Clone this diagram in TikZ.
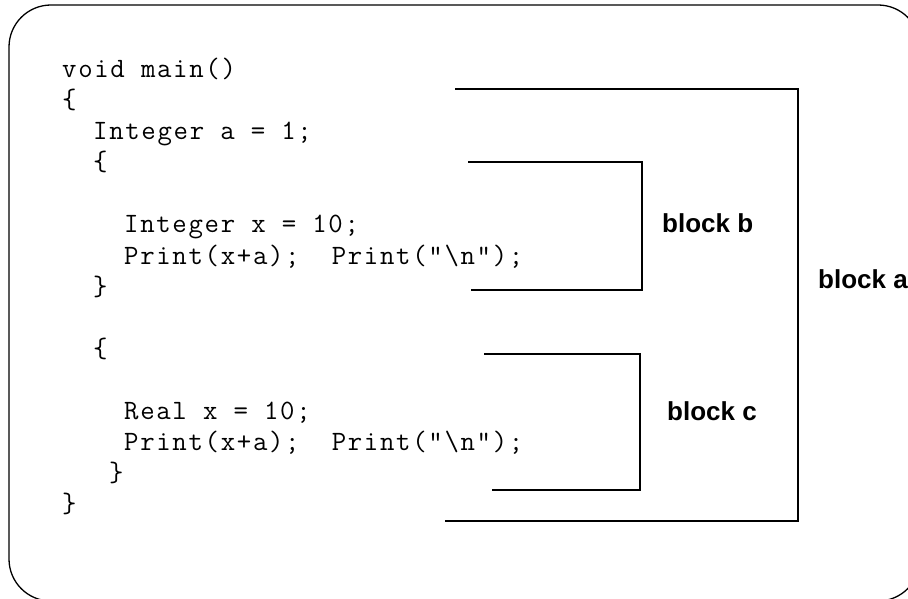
\documentclass[tikz,border=0pt]{standalone}
\usepackage{fontspec}
\setmonofont[LetterSpace=6]{Latin Modern Mono}
\newfontfamily\labelfont{Liberation Sans}

\tikzset{
 code/.style={anchor=base west,inner sep=0pt,font=\ttfamily\fontsize{28}{30}\selectfont},
 blocklabel/.style={anchor=base west,inner sep=0pt,font=\labelfont\bfseries\fontsize{26}{30}\selectfont},
 bracket/.style={line width=2pt,line join=miter}
}

\begin{document}
\begin{tikzpicture}[x=1pt,y=-1pt]
 \useasboundingbox (0,0) rectangle (908,599);
 \clip (0,0) rectangle (908,599);
 \draw[line width=1.3pt,rounded corners=42pt] (9,5) rectangle (920,601);
 % the program text
 \node[code] (l0) at (62,78) {void main()};
 \node[code] (l1) at (62,109) {\{};
 \node[code] (l2) at (93,140) {Integer a = 1;};
 \node[code] (l3) at (93,171) {\{};
 \node[code] (l5) at (124,233) {Integer x = 10;};
 \node[code] (l6) at (124,264) {Print(x+a);\ \ Print("\textbackslash n");};
 \node[code] (l7) at (93,295) {\}};
 \node[code] (l9) at (93,357) {\{};
 \node[code] (l11) at (124,419) {Real x = 10;};
 \node[code] (l12) at (124,450) {Print(x+a);\ \ Print("\textbackslash n");};
 \node[code] (l13) at (109,481) {\}};
 \node[code] (l14) at (62,512) {\}};
 % corners of the brackets
 \coordinate (a1) at (455,89);
 \coordinate (a2) at (798,89);
 \coordinate (a3) at (798,521);
 \coordinate (a4) at (445,521);
 \coordinate (b1) at (468,162);
 \coordinate (b2) at (642,162);
 \coordinate (b3) at (642,290);
 \coordinate (b4) at (471,290);
 \coordinate (c1) at (484,354);
 \coordinate (c2) at (640,354);
 \coordinate (c3) at (640,490);
 \coordinate (c4) at (492,490);
 \draw[bracket] (a1) -- (a2) -- (a3) -- (a4);
 \draw[bracket] (b1) -- (b2) -- (b3) -- (b4);
 \draw[bracket] (c1) -- (c2) -- (c3) -- (c4);
 \node[blocklabel] (labb) at (662,233) {block b};
 \node[blocklabel] (laba) at (818,288) {block a};
 \node[blocklabel] (labc) at (667,420) {block c};
\end{tikzpicture}
\end{document}
